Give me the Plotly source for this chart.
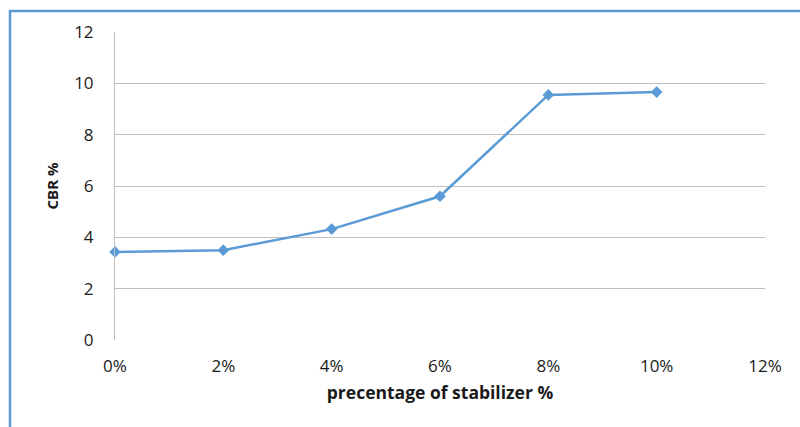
import plotly.graph_objects as go

# CBR results for each stabilizer dosage
stabilizer_pct = [0, 2, 4, 6, 8, 10]
cbr_values = [3.43, 3.5, 4.32, 5.6, 9.55, 9.66]
x_ticks = [0, 2, 4, 6, 8, 10, 12]
x_tick_text = ["0%", "2%", "4%", "6%", "8%", "10%", "12%"]
y_ticks = [0, 2, 4, 6, 8, 10, 12]

W, H = 800, 427
L, R, T, B = 115, 35, 32, 87

fig = go.Figure()
fig.add_trace(go.Scatter(
    x=stabilizer_pct, y=cbr_values, mode="lines+markers",
    line=dict(color="#5b9bd5", width=2.5),
    marker=dict(symbol="diamond", size=9, color="#5b9bd5"),
    showlegend=False, cliponaxis=False,
))

font = dict(family="Open Sans, Liberation Sans, sans-serif", size=17, color="#1a1a1a")

fig.update_layout(
    width=W, height=H,
    margin=dict(l=L, r=R, t=T, b=B),
    paper_bgcolor="white", plot_bgcolor="white",
    font=font,
    xaxis=dict(
        range=[0, 12], tickvals=x_ticks, ticktext=x_tick_text,
        showgrid=False, zeroline=False, showline=False,
        ticks="", ticklabelstandoff=14,
        title=dict(text="<b>precentage of stabilizer %</b>", font=dict(size=17.5), standoff=10),
    ),
    yaxis=dict(
        range=[0, 12], tickvals=y_ticks,
        showgrid=True, gridcolor="#bfbfbf", gridwidth=1,
        zeroline=False, showline=True, linecolor="#bfbfbf", linewidth=1,
        ticks="", ticklabelstandoff=17,
        title=dict(text="<b>CBR %</b>", font=dict(size=15), standoff=11),
    ),
    shapes=[dict(
        type="rect", xref="paper", yref="paper",
        x0=(10 - L) / (W - L - R), x1=(W + 20 - L) / (W - L - R),
        y0=-(H + 20 - (H - B)) / (H - T - B), y1=(H - 11 - B) / (H - T - B),
        line=dict(color="#5b9bd5", width=2.5), layer="below",
    )],
)

fig.write_html("out.html")
